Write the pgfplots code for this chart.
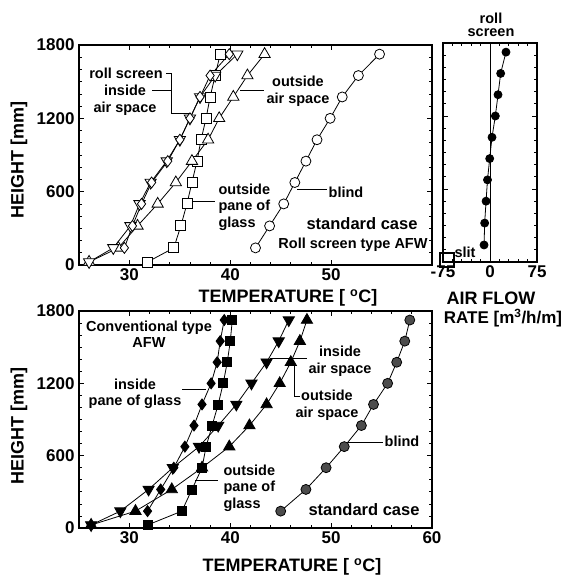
\documentclass[border=0pt]{standalone}
\usepackage{fontspec}
\setmainfont{Liberation Sans}
\usepackage{pgfplots}
\usepackage{pgfplotstable}
\pgfplotsset{compat=1.18}

\pgfplotstableread{
H opane oair iair
25 31.8 26.0 26.0
140 34.4 28.9 28.4
320 35.1 30.8 30.1
500 35.7 32.8 31.0
675 36.2 34.6 32.1
850 36.7 36.2 33.7
1025 37.1 37.8 35.0
1200 37.6 38.9 36.0
1375 38.0 40.3 37.0
1550 38.5 41.7 38.5
1725 39.0 43.4 40.7
}\topA
\pgfplotstableread{
H roll blind
140 29.5 42.5
320 30.3 43.9
500 31.2 45.3
675 32.2 46.4
850 33.8 47.5
1025 35.0 48.6
1200 36.0 49.9
1375 37.0 51.1
1550 38.0 52.7
1725 39.9 54.8
}\topB
\pgfplotstableread{
H flow
140 -9.5
320 -8.5
500 -6.3
675 -4.0
850 -0.5
1025 3.2
1200 8.5
1375 12.8
1550 17.0
1725 25.5
}\flowT
\pgfplotstableread{
H iair oair opane
25 26.2 26.2 31.8
140 29.1 30.6 35.2
320 31.9 34.2 36.2
500 34.3 37.2 37.2
675 36.9 39.9 37.6
850 38.8 41.9 38.2
1025 40.6 43.6 38.8
1200 42.1 44.9 39.3
1375 43.6 46.0 39.7
1550 44.8 46.9 40.0
1725 45.8 47.6 40.2
}\botA
\pgfplotstableread{
H ipane blind
140 31.8 45.0
320 33.1 47.5
500 34.4 49.5
675 35.5 51.3
850 36.4 53.0
1025 37.2 54.2
1200 38.1 55.6
1375 38.7 56.5
1550 39.0 57.3
1725 39.4 57.8
}\botB

\pgfplotsset{
  myaxis/.style={
    scale only axis, clip=false,
    axis line style={line width=1.4pt},
    every tick/.style={black, line width=0.7pt},
    major tick length=5pt, minor tick length=3pt,
    tick label style={font=\bfseries\fontsize{17}{17}\selectfont},
    yticklabel style={xshift=-1pt},
    /pgf/number format/assume math mode=true,
    /pgf/number format/1000 sep={},
    ymin=0, ymax=1800, ytick={0,600,1200,1800}, minor y tick num=5,
  },
  dline/.style={black, line width=0.8pt},
}
\newcommand{\ann}{\bfseries\fontsize{14.5}{16.5}\selectfont}
\newcommand{\annb}{\bfseries\fontsize{16.5}{17}\selectfont}
\newcommand{\lab}{\bfseries\fontsize{18}{18}\selectfont}

\begin{document}
\begin{tikzpicture}[x=1pt,y=1pt]
\useasboundingbox (0,0) rectangle (564,-576);

% ---- top left
\begin{axis}[myaxis, at={(79pt,-265pt)}, anchor=south west,
  width=353pt, height=220pt, xmin=25, xmax=60, xtick={30,40,50}, minor x tick num=4]
\addplot[dline, mark=square*, mark size=5pt, mark options={fill=white, solid, line width=0.8pt}] table[x=opane, y=H]{\topA};
\addplot[dline, mark=triangle*, mark size=6.5pt, mark options={fill=white, solid, line width=0.8pt}] table[x=oair, y=H]{\topA};
\addplot[dline, mark=triangle*, mark size=6.5pt, mark options={fill=white, solid, rotate=180, line width=0.8pt}] table[x=iair, y=H]{\topA};
\addplot[dline, mark=diamond*, mark size=5.5pt, mark options={fill=white, solid, line width=0.8pt}] table[x=roll, y=H]{\topB};
\addplot[dline, mark=*, mark size=5pt, mark options={fill=white, solid, line width=0.8pt}] table[x=blind, y=H]{\topB};
\end{axis}

% ---- top right
\begin{axis}[myaxis, at={(443pt,-262pt)}, anchor=south west,
  width=94pt, height=219pt, xmin=-75, xmax=75, xtick={-75,0,75}, minor x tick num=4,
  yticklabels={}]
\draw[black, line width=0.7pt] (axis cs:0,0) -- (axis cs:0,1800);
\addplot[dline, mark=*, mark size=4pt, mark options={fill=black, solid}] table[x=flow, y=H]{\flowT};
\addplot[only marks, mark=square, mark size=7pt, mark options={line width=1.5pt, fill=white}] coordinates {(-69,16)};
\end{axis}

% ---- bottom
\begin{axis}[myaxis, at={(79pt,-528pt)}, anchor=south west,
  width=353pt, height=217pt, xmin=25, xmax=60, xtick={30,40,50,60}, minor x tick num=4]
\addplot[dline, mark=triangle*, mark size=6.5pt, mark options={fill=black, solid, rotate=180}] table[x=iair, y=H]{\botA};
\addplot[dline, mark=triangle*, mark size=6.5pt, mark options={fill=black, solid}] table[x=oair, y=H]{\botA};
\addplot[dline, mark=square*, mark size=4.5pt, mark options={fill=black, solid}] table[x=opane, y=H]{\botA};
\addplot[dline, mark=diamond*, mark size=5.5pt, mark options={fill=black, solid}] table[x=ipane, y=H]{\botB};
\addplot[dline, mark=*, mark size=5pt, mark options={fill=black!70, draw=black, solid, line width=0.8pt}] table[x=blind, y=H]{\botB};
\end{axis}

% ---- axis titles
\node[font=\lab, rotate=90] at (19,-160) {HEIGHT [mm]};
\node[font=\lab, rotate=90] at (19,-426) {HEIGHT [mm]};
\node[font=\lab] at (288,-298) {TEMPERATURE [ \textsuperscript{o}C]};
\node[font=\lab] at (292,-567) {TEMPERATURE [ \textsuperscript{o}C]};
\node[font=\lab] at (491,-298) {AIR FLOW};
\node[font=\bfseries\fontsize{17}{17}\selectfont] at (503,-318) {RATE [m\textsuperscript{3}/h/m]};
\node[font=\ann] at (491,-18) {roll};
\node[font=\ann] at (491,-33) {screen};
\node[font=\ann] at (465,-252) {slit};

% ---- top-left annotations
\node[font=\ann] at (126,-73) {roll screen};
\node[font=\ann, align=center] at (125,-100) {inside\\air space};
\draw[line width=0.7pt] (166,-73) -- (171,-73) -- (171,-113) -- (189,-113);
\draw[line width=0.7pt] (152,-90) -- (171,-90);
\node[font=\ann, align=center] at (298,-91) {outside\\air space};
\draw[line width=0.7pt] (240,-90) -- (264,-90);
\node[font=\ann, align=left, anchor=west] at (215,-207) {outside\\pane of\\glass};
\draw[line width=0.7pt] (193,-201) -- (215,-201);
\node[font=\ann] at (346,-192) {blind};
\draw[line width=0.7pt] (297,-189) -- (327,-189);
\node[font=\annb] at (362,-224) {standard case};
\node[font=\ann] at (353,-245) {Roll screen type AFW};

% ---- bottom annotations
\node[font=\ann, align=center] at (149,-334) {Conventional type\\AFW};
\node[font=\ann, align=center] at (135,-394) {inside\\pane of glass};
\draw[line width=0.7pt] (182,-389) -- (206,-389);
\node[font=\ann, align=center] at (340,-361) {inside\\air space};
\draw[line width=0.7pt] (270,-358) -- (307,-358);
\node[font=\ann, align=center] at (327,-405) {outside\\air space};
\draw[line width=0.7pt] (294,-366) -- (294,-396) -- (300,-396);
\node[font=\ann] at (402,-441) {blind};
\draw[line width=0.7pt] (348,-442) -- (383,-442);
\node[font=\ann, align=left, anchor=west] at (220,-488) {outside\\pane of\\glass};
\draw[line width=0.7pt] (195,-480) -- (218,-480);
\node[font=\annb] at (364,-510) {standard case};
\end{tikzpicture}
\end{document}
